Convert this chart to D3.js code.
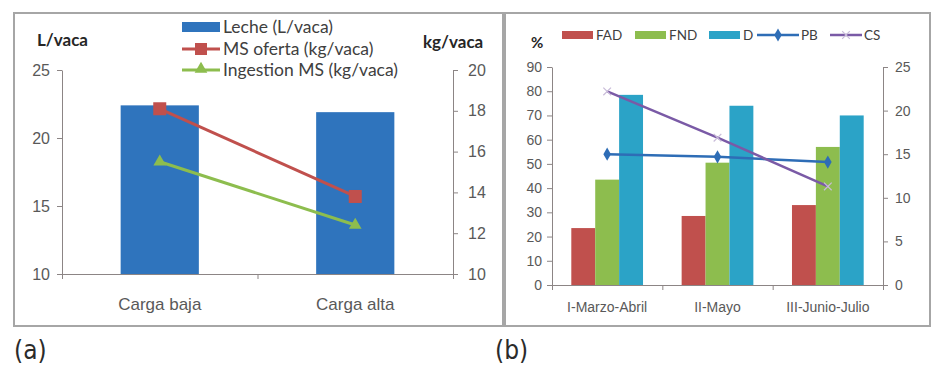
<!DOCTYPE html>
<html>
<head>
<meta charset="utf-8">
<script src="https://d3js.org/d3.v7.min.js"></script>
<style>
  body { margin: 0; background: #fff; }
  svg { font-family: Lato, "Open Sans", sans-serif; }
  .tick text { fill: #595959; }
  .frame { fill: #fff; stroke: #a6a6a6; stroke-width: 2; }
  .unit { font-weight: bold; fill: #262626; }
  .panel-label { font-family: "DejaVu Sans Condensed", "DejaVu Sans", sans-serif; font-size: 26px; fill: #2b2b2b; }
</style>
</head>
<body>
<div id="chart"></div>
<script>
// panel (a)
var catsA = ["Carga baja", "Carga alta"];
var leche = [22.4, 21.9];
var msOferta = [18.1, 13.8];
var ingestion = [15.5, 12.4];
var ticksALeft = [10, 15, 20, 25];
var ticksARight = [10, 12, 14, 16, 18, 20];

// panel (b)
var catsB = ["I-Marzo-Abril", "II-Mayo", "III-Junio-Julio"];
var fad = [23.5, 28.5, 33];
var fnd = [43.5, 50.5, 57];
var dig = [78.5, 74, 70];
var pb = [15, 14.7, 14.1];
var cs = [22.2, 16.9, 11.3];
var ticksBLeft = [0, 10, 20, 30, 40, 50, 60, 70, 80, 90];
var ticksBRight = [0, 5, 10, 15, 20, 25];

var axisColor = "#8c8585";

var svg = d3.select("#chart").append("svg")
  .attr("width", 933).attr("height", 365);

svg.append("rect").attr("class", "frame").attr("x", 14).attr("y", 13).attr("width", 489).attr("height", 313);
svg.append("rect").attr("class", "frame").attr("x", 505).attr("y", 13).attr("width", 425).attr("height", 313);

function styleAxis(g) {
  g.selectAll("path.domain").attr("stroke", axisColor);
  g.selectAll(".tick line").attr("stroke", axisColor);
}

/* ---------- panel (a) ---------- */
var ax0 = 62, ax1 = 453, ay0 = 70, ay1 = 274;
var xA = d3.scaleBand().domain(catsA).range([ax0, ax1]).paddingInner(0.6).paddingOuter(0.3);
var yAL = d3.scaleLinear().domain([10, 25]).range([ay1, ay0]);
var yAR = d3.scaleLinear().domain([10, 20]).range([ay1, ay0]);
var xAEdge = d3.scaleLinear().domain([0, catsA.length]).range([ax0, ax1]);

svg.append("g").selectAll("rect").data(leche).enter().append("rect")
  .attr("x", (d, i) => xA(catsA[i]))
  .attr("y", d => yAL(d))
  .attr("width", xA.bandwidth())
  .attr("height", d => yAL(10) - yAL(d))
  .attr("fill", "#2f74bd");

var gA = svg.append("g").attr("transform", `translate(${ax0},0)`)
  .call(d3.axisLeft(yAL).tickValues(ticksALeft).tickSize(5).tickSizeOuter(0));
gA.selectAll("text").style("font-size", "16px").attr("x", -12);
styleAxis(gA);

var gAR = svg.append("g").attr("transform", `translate(${ax1},0)`)
  .call(d3.axisRight(yAR).tickValues(ticksARight).tickSize(5).tickSizeOuter(0));
gAR.selectAll("text").style("font-size", "16px").attr("x", 15);
styleAxis(gAR);

var gAX = svg.append("g").attr("transform", `translate(0,${ay1})`)
  .call(d3.axisBottom(xAEdge).tickValues([0, 1, 2]).tickFormat("").tickSize(5).tickSizeOuter(0));
styleAxis(gAX);
var gAXL = svg.append("g").attr("transform", `translate(0,${ay1})`)
  .call(d3.axisBottom(xA).tickSize(0));
gAXL.select(".domain").remove();
gAXL.selectAll("text").style("font-size", "17px").attr("y", 24);

var lineA = d3.line().x((d, i) => xA(catsA[i]) + xA.bandwidth() / 2).y(d => yAR(d));
svg.append("path").datum(msOferta).attr("d", lineA)
  .attr("fill", "none").attr("stroke", "#c0504d").attr("stroke-width", 3);
svg.append("path").datum(ingestion).attr("d", lineA)
  .attr("fill", "none").attr("stroke", "#8dbd4e").attr("stroke-width", 3);
svg.append("g").selectAll("rect").data(msOferta).enter().append("rect")
  .attr("x", (d, i) => xA(catsA[i]) + xA.bandwidth() / 2 - 6.5)
  .attr("y", d => yAR(d) - 6.5)
  .attr("width", 13).attr("height", 13).attr("fill", "#c0504d");
var tri = d3.symbol().type(d3.symbolTriangle).size(70);
svg.append("g").selectAll("path").data(ingestion).enter().append("path")
  .attr("d", tri)
  .attr("transform", (d, i) => `translate(${xA(catsA[i]) + xA.bandwidth() / 2},${yAR(d)})`)
  .attr("fill", "#8dbd4e");

svg.append("text").attr("class", "unit").attr("x", 37).attr("y", 46).style("font-size", "17px").text("L/vaca");
svg.append("text").attr("class", "unit").attr("x", 423).attr("y", 48).style("font-size", "17px").text("kg/vaca");

// legend (a)
var legA = svg.append("g").attr("transform", "translate(182,0)");
legA.append("rect").attr("x", 0).attr("y", 22).attr("width", 38).attr("height", 10).attr("fill", "#2f74bd");
legA.append("line").attr("x1", 0).attr("x2", 38).attr("y1", 49).attr("y2", 49).attr("stroke", "#c0504d").attr("stroke-width", 3);
legA.append("rect").attr("x", 13).attr("y", 43).attr("width", 12).attr("height", 12).attr("fill", "#c0504d");
legA.append("line").attr("x1", 0).attr("x2", 38).attr("y1", 70).attr("y2", 70).attr("stroke", "#8dbd4e").attr("stroke-width", 3);
legA.append("path").attr("d", tri).attr("transform", "translate(19,69)").attr("fill", "#8dbd4e");
var legAText = ["Leche (L/vaca)", "MS oferta  (kg/vaca)", "Ingestion MS (kg/vaca)"];
legA.selectAll("text.l").data(legAText).enter().append("text")
  .attr("x", 41).attr("y", (d, i) => 33 + i * 21.5)
  .style("font-size", "17.5px").attr("fill", "#404040")
  .text(d => d);

/* ---------- panel (b) ---------- */
var bx0 = 552, bx1 = 883, by0 = 67, by1 = 285;
var xB = d3.scaleBand().domain(catsB).range([bx0, bx1]).paddingInner(0.35).paddingOuter(0.175);
var xBEdge = d3.scaleLinear().domain([0, catsB.length]).range([bx0, bx1]);
var yBL = d3.scaleLinear().domain([0, 90]).range([by1, by0]);
var yBR = d3.scaleLinear().domain([0, 25]).range([by1, by0]);
var seriesB = [
  { name: "FAD", values: fad, color: "#c0504d" },
  { name: "FND", values: fnd, color: "#8dbd4e" },
  { name: "D", values: dig, color: "#2ba3c7" }
];
var xSub = d3.scaleBand().domain(seriesB.map(d => d.name)).range([0, xB.bandwidth()]);

seriesB.forEach(function(s) {
  svg.append("g").selectAll("rect").data(s.values).enter().append("rect")
    .attr("x", (d, i) => xB(catsB[i]) + xSub(s.name))
    .attr("y", d => yBL(d))
    .attr("width", xSub.bandwidth())
    .attr("height", d => yBL(0) - yBL(d))
    .attr("fill", s.color);
});

var gBL = svg.append("g").attr("transform", `translate(${bx0},0)`)
  .call(d3.axisLeft(yBL).tickValues(ticksBLeft).tickSize(5).tickSizeOuter(0));
gBL.selectAll("text").style("font-size", "14px").attr("x", -10);
styleAxis(gBL);
var gBR = svg.append("g").attr("transform", `translate(${bx1},0)`)
  .call(d3.axisRight(yBR).tickValues(ticksBRight).tickSize(5).tickSizeOuter(0));
gBR.selectAll("text").style("font-size", "14px").attr("x", 12);
styleAxis(gBR);
var gBX = svg.append("g").attr("transform", `translate(0,${by1})`)
  .call(d3.axisBottom(xBEdge).tickValues([0, 1, 2, 3]).tickFormat("").tickSize(5).tickSizeOuter(0));
styleAxis(gBX);
var gBXL = svg.append("g").attr("transform", `translate(0,${by1})`)
  .call(d3.axisBottom(xB).tickSize(0));
gBXL.select(".domain").remove();
gBXL.selectAll("text").style("font-size", "14px").attr("y", 17);

var lineB = d3.line().x((d, i) => xB(catsB[i]) + xB.bandwidth() / 2).y(d => yBR(d));
svg.append("path").datum(pb).attr("d", lineB)
  .attr("fill", "none").attr("stroke", "#2e6db6").attr("stroke-width", 2.5);
var dia = d3.symbol().type(d3.symbolDiamond).size(50);
svg.append("g").selectAll("path").data(pb).enter().append("path")
  .attr("d", dia)
  .attr("transform", (d, i) => `translate(${xB(catsB[i]) + xB.bandwidth() / 2},${yBR(d)})`)
  .attr("fill", "#2e6db6");
svg.append("path").datum(cs).attr("d", lineB)
  .attr("fill", "none").attr("stroke", "#7a5aa6").attr("stroke-width", 2.5);
var cross = d3.symbol().type(d3.symbolX).size(40);
svg.append("g").selectAll("path").data(cs).enter().append("path")
  .attr("d", cross)
  .attr("transform", (d, i) => `translate(${xB(catsB[i]) + xB.bandwidth() / 2},${yBR(d)})`)
  .attr("fill", "none").attr("stroke", "#c9bcd9").attr("stroke-width", 1.2);

svg.append("text").attr("class", "unit").attr("x", 531).attr("y", 48).style("font-size", "15px").text("%");

// legend (b)
var legB = svg.append("g");
var legBItems = [
  { name: "FAD", x: 562, type: "bar", color: "#c0504d" },
  { name: "FND", x: 635, type: "bar", color: "#8dbd4e" },
  { name: "D", x: 709, type: "bar", color: "#2ba3c7" },
  { name: "PB", x: 757, type: "line", color: "#2e6db6" },
  { name: "CS", x: 830, type: "line", color: "#7a5aa6" }
];
legBItems.forEach(function(it) {
  if (it.type === "bar") {
    legB.append("rect").attr("x", it.x).attr("y", 31).attr("width", 31).attr("height", 8).attr("fill", it.color);
    legB.append("text").attr("x", it.x + 34).attr("y", 40).style("font-size", "13.5px").attr("fill", "#404040").text(it.name);
  } else {
    var w = it.name === "PB" ? 42 : 32;
    legB.append("line").attr("x1", it.x).attr("x2", it.x + w).attr("y1", 35).attr("y2", 35)
      .attr("stroke", it.color).attr("stroke-width", 2.5);
    if (it.name === "PB") {
      legB.append("path").attr("d", dia).attr("transform", `translate(${it.x + w / 2},35)`).attr("fill", it.color);
    } else {
      legB.append("path").attr("d", cross).attr("transform", `translate(${it.x + w / 2},35)`)
        .attr("fill", "none").attr("stroke", "#c9bcd9").attr("stroke-width", 1.2);
    }
    legB.append("text").attr("x", it.x + w + 2).attr("y", 40).style("font-size", "13.5px").attr("fill", "#404040").text(it.name);
  }
});

svg.append("text").attr("class", "panel-label").attr("x", 14).attr("y", 359).text("(a)");
svg.append("text").attr("class", "panel-label").attr("x", 495).attr("y", 359).text("(b)");
</script>
</body>
</html>
